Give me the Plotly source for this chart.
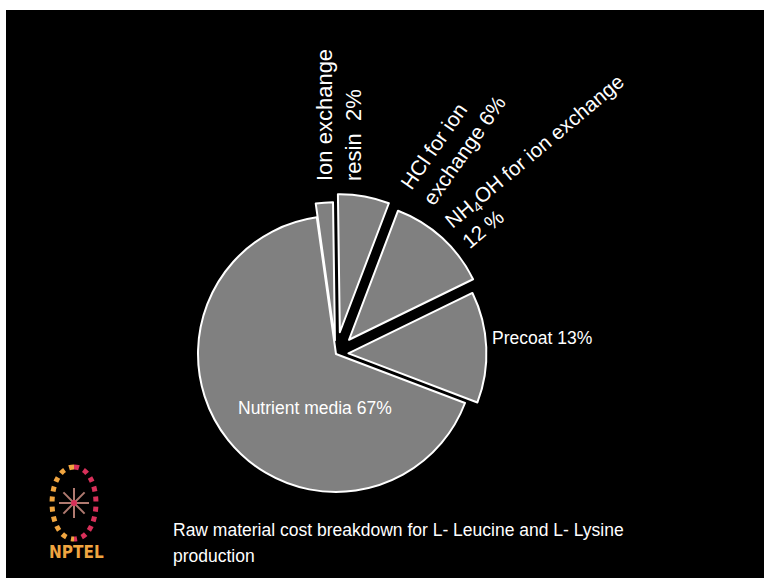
import math
import plotly.graph_objects as go

# ---- data ----
categories = ["Ion exchange resin", "HCl for ion exchange", "NH<sub>4</sub>OH for ion exchange",
              "Precoat", "Nutrient media"]
values = [2, 6, 12, 13, 67]
pulls = [0.10, 0.16, 0.14, 0.09, 0.0]

W, H = 764, 578


def px(x):
    return x / W


def py(y):
    return 1 - y / H


# pie geometry (pixel-based domain)
cx, cy, r, maxpull = 336, 354, 138, max(pulls)
half = r * (1 + maxpull)

fig = go.Figure()
fig.add_trace(go.Pie(
    labels=categories,
    values=values,
    pull=pulls,
    sort=False,
    direction="clockwise",
    rotation=-8,
    textinfo="none",
    textposition="none",
    hoverinfo="label+percent",
    marker=dict(colors=["#808080"] * len(values), line=dict(color="white", width=2)),
    domain=dict(x=[px(cx - half), px(cx + half)], y=[py(cy + half), py(cy - half)]),
    showlegend=False,
))

FONT = "Liberation Sans, Arial, sans-serif"
ann = []
# slice labels
ann.append(dict(text="Ion exchange<br>resin  2%", x=px(339), y=py(183), xanchor="center", yanchor="bottom",
                textangle=-90, align="left", font=dict(size=22, color="white", family=FONT)))
ann.append(dict(text="HCl for ion<br>exchange 6%", x=px(453), y=py(142), xanchor="center", yanchor="middle",
                textangle=-55, align="left", font=dict(size=21, color="white", family=FONT)))
ann.append(dict(text="NH<sub>4</sub>OH for ion exchange<br>12 %", x=px(543), y=py(161), xanchor="center",
                yanchor="middle", textangle=-40, align="left",
                font=dict(size=20.5, color="white", family=FONT)))
ann.append(dict(text="Precoat 13%", x=px(490), y=py(338), xanchor="left", yanchor="middle",
                font=dict(size=17.5, color="white", family=FONT)))
ann.append(dict(text="Nutrient media 67%", x=px(315), y=py(408), xanchor="center", yanchor="middle",
                font=dict(size=17.5, color="white", family=FONT)))
# caption
ann.append(dict(text="Raw material cost breakdown for L- Leucine and L- Lysine", x=px(171), y=py(530),
                xanchor="left", yanchor="middle", font=dict(size=17.5, color="white", family=FONT)))
ann.append(dict(text="production", x=px(171), y=py(556), xanchor="left", yanchor="middle",
                font=dict(size=17.5, color="white", family=FONT)))
# logo text
ann.append(dict(text="<b>NPTEL</b>", x=px(76), y=py(552), xanchor="center", yanchor="middle",
                font=dict(size=17, color="#f0a540", family="DejaVu Sans Condensed, DejaVu Sans, sans-serif")))
for a in ann:
    a.update(xref="paper", yref="paper", showarrow=False)

shapes = []
# slide background with white frame at top/left
shapes.append(dict(type="rect", xref="paper", yref="paper", x0=px(6), x1=1, y0=0, y1=py(10),
                   fillcolor="black", line=dict(width=0), layer="below"))
# logo emblem
lcx, lcy, lrx, lry = 74, 503, 22, 36
k = 1.33
shapes.append(dict(type="path", xref="paper", yref="paper",
                   path=f"M {px(lcx)},{py(lcy - lry)} C {px(lcx - k * lrx)},{py(lcy - lry)} "
                        f"{px(lcx - k * lrx)},{py(lcy + lry)} {px(lcx)},{py(lcy + lry)}",
                   line=dict(color="#f0a540", width=5, dash="dot"), layer="above"))
shapes.append(dict(type="path", xref="paper", yref="paper",
                   path=f"M {px(lcx)},{py(lcy - lry)} C {px(lcx + k * lrx)},{py(lcy - lry)} "
                        f"{px(lcx + k * lrx)},{py(lcy + lry)} {px(lcx)},{py(lcy + lry)}",
                   line=dict(color="#d8305a", width=5, dash="dot"), layer="above"))
for i in range(4):
    ang = math.pi * i / 4
    dx, dy = 15 * math.cos(ang), 15 * math.sin(ang)
    shapes.append(dict(type="line", xref="paper", yref="paper",
                       x0=px(lcx - dx), y0=py(lcy - dy), x1=px(lcx + dx), y1=py(lcy + dy),
                       line=dict(color="#b07a70", width=2), layer="above"))
shapes.append(dict(type="circle", xref="paper", yref="paper", x0=px(lcx - 3), x1=px(lcx + 3),
                   y0=py(lcy + 3), y1=py(lcy - 3), fillcolor="#d8305a", line=dict(width=0), layer="above"))

fig.update_layout(
    width=W, height=H,
    margin=dict(l=0, r=0, t=0, b=0),
    paper_bgcolor="white",
    plot_bgcolor="black",
    annotations=ann,
    shapes=shapes,
    showlegend=False,
)

fig.write_html("out.html")
